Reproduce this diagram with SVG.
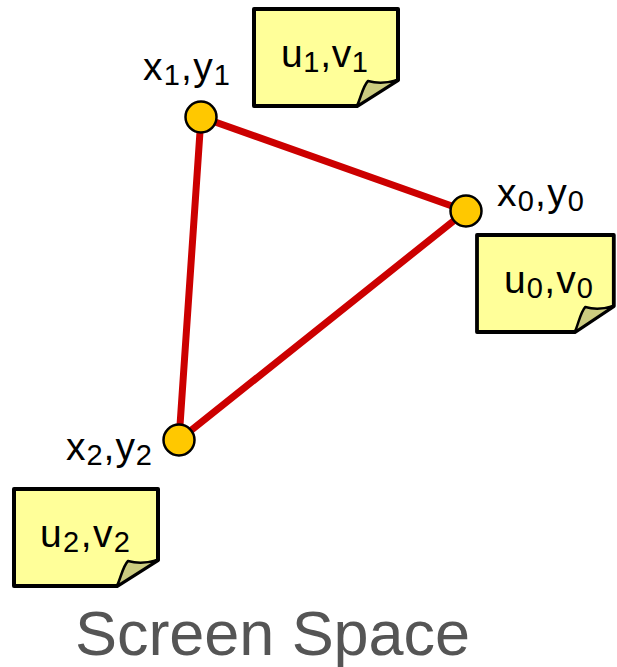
<svg xmlns="http://www.w3.org/2000/svg" width="617" height="667" viewBox="0 0 617 667">
<style>
.note{fill:#ffff99;stroke:#000;stroke-width:4;stroke-linejoin:round}
.fold{fill:#cccc80;stroke:#000;stroke-width:2.5;stroke-linejoin:round}
.edge{stroke:#cc0000;stroke-width:7;stroke-linecap:round;fill:none}
.vtx{fill:#ffc800;stroke:#000;stroke-width:2.5}
.lbl{font-family:"Liberation Sans",Arial,sans-serif;font-size:39px;fill:#000}
.sub{font-size:29px}
.title{font-family:"Liberation Sans",Arial,sans-serif;font-size:63px;fill:#555}
</style>
<defs>
<g id="note">
<path class="note" d="M0,0 H144 V71 L103,97 H0 Z"/>
<path class="fold" d="M103,97 C107,88 109,77 114,72 C124,75 134,74 144,71 Z"/>
</g>
</defs>
<g id="connectors">
<line class="edge" x1="201" y1="117" x2="466" y2="211"/>
<line class="edge" x1="466" y1="211" x2="179" y2="440"/>
<line class="edge" x1="179" y1="440" x2="201" y2="117"/>
</g>
<g id="v1">
<circle class="vtx" cx="201" cy="117" r="15.5"/>
<text class="lbl" x="143" y="80" textLength="87">x<tspan class="sub" dy="5">1</tspan><tspan dy="-5">,y</tspan><tspan class="sub" dy="5">1</tspan></text>
</g>
<g id="v0">
<circle class="vtx" cx="466" cy="211" r="15.5"/>
<text class="lbl" x="497" y="206" textLength="87">x<tspan class="sub" dy="5">0</tspan><tspan dy="-5">,y</tspan><tspan class="sub" dy="5">0</tspan></text>
</g>
<g id="v2">
<circle class="vtx" cx="179" cy="440" r="15.5"/>
<text class="lbl" x="66" y="460" textLength="86">x<tspan class="sub" dy="5">2</tspan><tspan dy="-5">,y</tspan><tspan class="sub" dy="5">2</tspan></text>
</g>
<g id="uv1" transform="translate(254,9)">
<use href="#note"/>
<text class="lbl" x="27" y="58" textLength="87">u<tspan class="sub" dy="5">1</tspan><tspan dy="-5">,v</tspan><tspan class="sub" dy="5">1</tspan></text>
</g>
<g id="uv0" transform="translate(477,235)">
<use href="#note" transform="scale(0.95,1)"/>
<text class="lbl" x="27" y="58" textLength="89">u<tspan class="sub" dy="5">0</tspan><tspan dy="-5">,v</tspan><tspan class="sub" dy="5">0</tspan></text>
</g>
<g id="uv2" transform="translate(14,489)">
<use href="#note"/>
<text class="lbl" x="26" y="58" textLength="90">u<tspan class="sub" dy="5">2</tspan><tspan dy="-5">,v</tspan><tspan class="sub" dy="5">2</tspan></text>
</g>
<text class="title" x="75" y="655" textLength="395">Screen Space</text>
</svg>
